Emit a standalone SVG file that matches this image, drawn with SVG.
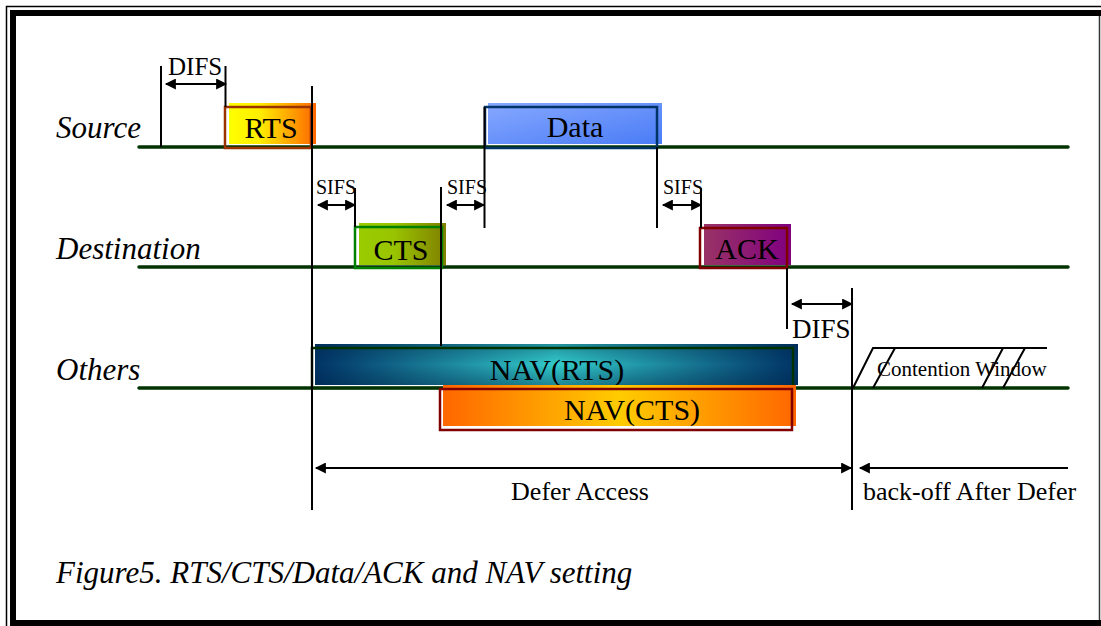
<svg xmlns="http://www.w3.org/2000/svg" width="1101" height="626" viewBox="0 0 1101 626">
  <style>
    .lbl { font-family: "Liberation Serif", "Times New Roman", serif; fill: #000; }
    .ital { font-style: italic; font-size: 31px; }
    .box { font-size: 30px; text-anchor: middle; }
    .small { font-size: 20px; }
    .mid { font-size: 26px; text-anchor: middle; }
    .tick { stroke: #000; stroke-width: 2; fill: none; }
    .arrow { stroke: #000; stroke-width: 2; fill: none; marker-start: url(#ah); marker-end: url(#ah); }
    .base { stroke: #003300; stroke-width: 3.5; stroke-linecap: round; }
  </style>
  <defs>
    <marker id="ah" viewBox="0 0 10 10" refX="9" refY="5" markerWidth="6" markerHeight="5.5" orient="auto-start-reverse" markerUnits="strokeWidth">
      <path d="M0,0 L10,5 L0,10 Z" fill="#000"/>
    </marker>
    <linearGradient id="gRts" x1="0" y1="0" x2="1" y2="0">
      <stop offset="0" stop-color="#ffff00"/>
      <stop offset="0.35" stop-color="#ffee00"/>
      <stop offset="1" stop-color="#ff6600"/>
    </linearGradient>
    <linearGradient id="gData" x1="0" y1="0" x2="1" y2="1">
      <stop offset="0" stop-color="#86a8ff"/>
      <stop offset="1" stop-color="#4a7cf6"/>
    </linearGradient>
    <linearGradient id="gCts" x1="0" y1="0" x2="1" y2="0">
      <stop offset="0" stop-color="#99cc00"/>
      <stop offset="0.4" stop-color="#99c400"/>
      <stop offset="1" stop-color="#808000"/>
    </linearGradient>
    <linearGradient id="gAck" x1="0" y1="0" x2="1" y2="0">
      <stop offset="0" stop-color="#993366"/>
      <stop offset="1" stop-color="#800080"/>
    </linearGradient>
    <linearGradient id="gNavR" x1="0" y1="0" x2="1" y2="0">
      <stop offset="0" stop-color="#003366"/>
      <stop offset="0.5" stop-color="#33cccc"/>
      <stop offset="1" stop-color="#003366"/>
    </linearGradient>
    <linearGradient id="gNavRv" x1="0" y1="0" x2="0" y2="1">
      <stop offset="0" stop-color="#002244" stop-opacity="0.35"/>
      <stop offset="0.5" stop-color="#002244" stop-opacity="0"/>
      <stop offset="1" stop-color="#002244" stop-opacity="0.4"/>
    </linearGradient>
    <linearGradient id="gNavC" x1="0" y1="0" x2="1" y2="0">
      <stop offset="0" stop-color="#ff6600"/>
      <stop offset="0.5" stop-color="#ffcc00"/>
      <stop offset="1" stop-color="#ff6600"/>
    </linearGradient>
  </defs>

  <rect width="1101" height="626" fill="#fff"/>

  <!-- double frame -->
  <g id="frame">
    <path d="M6.5,626 V6.5 H1101" stroke="#000" stroke-width="1.5" fill="none"/>
    <rect x="13" y="13" width="1100" height="610" stroke="#000" stroke-width="6" fill="none"/>
    <line x1="1099.5" y1="16" x2="1099.5" y2="620" stroke="#333" stroke-width="1.5"/>
  </g>

  <!-- station time lines -->
  <g id="timelines">
    <line class="base" x1="139" y1="147" x2="1068" y2="147"/>
    <line class="base" x1="139" y1="267" x2="1068" y2="267"/>
    <line class="base" x1="139" y1="388" x2="1068" y2="388"/>
    <text class="lbl ital" x="56" y="138">Source</text>
    <text class="lbl ital" x="56" y="259">Destination</text>
    <text class="lbl ital" x="56" y="380">Others</text>
  </g>

  <!-- frames on the medium -->
  <g id="rts">
    <rect x="229" y="103" width="87" height="41" fill="url(#gRts)"/>
    <rect x="225" y="107" width="86" height="41" fill="none" stroke="#993300" stroke-width="2.5"/>
    <text class="lbl box" x="271" y="138">RTS</text>
  </g>
  <g id="data">
    <rect x="488" y="103" width="174" height="41" fill="url(#gData)"/>
    <rect x="485" y="107" width="172" height="41" fill="none" stroke="#003366" stroke-width="2.5"/>
    <text class="lbl box" x="575" y="137">Data</text>
  </g>
  <g id="cts">
    <rect x="359" y="223" width="87" height="42" fill="url(#gCts)"/>
    <rect x="355" y="227" width="87" height="41" fill="none" stroke="#008000" stroke-width="2.5"/>
    <text class="lbl box" x="401" y="260">CTS</text>
  </g>
  <g id="ack">
    <rect x="704" y="224" width="87" height="41" fill="url(#gAck)"/>
    <rect x="700" y="228" width="87" height="40" fill="none" stroke="#800000" stroke-width="2.5"/>
    <text class="lbl box" x="747" y="259">ACK</text>
  </g>
  <g id="nav-rts">
    <rect x="315" y="344" width="483" height="41" fill="url(#gNavR)"/>
    <rect x="315" y="344" width="483" height="41" fill="url(#gNavRv)"/>
    <rect x="312" y="348" width="481" height="40" fill="none" stroke="#003300" stroke-width="2.5"/>
    <text class="lbl box" x="557" y="380">NAV(RTS)</text>
  </g>
  <g id="nav-cts">
    <rect x="443" y="385" width="353" height="41" fill="url(#gNavC)"/>
    <rect x="440" y="389" width="352" height="41" fill="none" stroke="#800000" stroke-width="2.5"/>
    <text class="lbl box" x="632" y="420">NAV(CTS)</text>
  </g>
  <g id="contention">
    <path class="tick" d="M853,388 L873,348 H1047 M873,388 L895,348 M982,388 L1003,348 M1003,388 L1025,348"/>
    <text class="lbl" x="877" y="376" font-size="21">Contention Window</text>
  </g>

  <!-- timing marks and intervals -->
  <g id="connectors">
    <line class="tick" x1="161" y1="66" x2="161" y2="147"/>
    <line class="tick" x1="225.5" y1="66" x2="225.5" y2="107"/>
    <line class="arrow" x1="166" y1="84" x2="226" y2="84"/>

    <line class="tick" x1="312" y1="86" x2="312" y2="510"/>
    <line class="tick" x1="355" y1="188" x2="355" y2="227"/>
    <line class="arrow" x1="318" y1="205" x2="355" y2="205"/>

    <line class="tick" x1="441" y1="187" x2="441" y2="346"/>
    <line class="tick" x1="484.5" y1="107" x2="484.5" y2="228"/>
    <line class="arrow" x1="447" y1="205" x2="484" y2="205"/>

    <line class="tick" x1="657" y1="147" x2="657" y2="228"/>
    <line class="tick" x1="701" y1="188" x2="701" y2="228"/>
    <line class="arrow" x1="663" y1="205" x2="701" y2="205"/>

    <line class="tick" x1="787" y1="268" x2="787" y2="329"/>
    <line class="tick" x1="852" y1="288" x2="852" y2="510"/>
    <line class="arrow" x1="792" y1="304" x2="852" y2="304"/>

    <line class="arrow" x1="316" y1="468" x2="851" y2="468"/>
    <line class="tick" x1="1068" y1="468" x2="860" y2="468" marker-end="url(#ah)"/>
  </g>

  <g id="interval-labels">
    <text class="lbl" x="168" y="75" font-size="25">DIFS</text>
    <text class="lbl small" x="316" y="194">SIFS</text>
    <text class="lbl small" x="447" y="194">SIFS</text>
    <text class="lbl small" x="663" y="194">SIFS</text>
    <text class="lbl" x="792" y="338" font-size="27">DIFS</text>
    <text class="lbl mid" x="580" y="500">Defer Access</text>
    <text class="lbl" x="863" y="500" font-size="26">back-off After Defer</text>
    <text class="lbl ital" x="56" y="583">Figure5. RTS/CTS/Data/ACK and NAV setting</text>
  </g>
</svg>
